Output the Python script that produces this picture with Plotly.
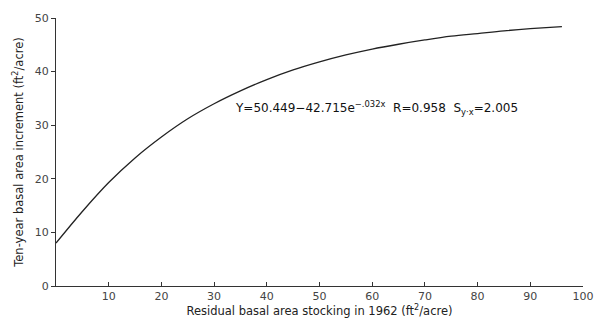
import plotly.graph_objects as go

# Values (fitted curve)
stocking = [0, 5, 10, 15, 20, 25, 30, 35, 40, 45, 50, 55, 60, 65, 70, 75, 80, 85, 90, 96]
increment = [8.0, 13.9, 19.3, 23.9, 27.8, 31.2, 34.0, 36.4, 38.5, 40.3, 41.8, 43.1, 44.2, 45.1, 45.9, 46.6, 47.1, 47.6, 48.0, 48.4]

x_ticks = [10, 20, 30, 40, 50, 60, 70, 80, 90, 100]
y_ticks = [0, 10, 20, 30, 40, 50]

equation = "Y=50.449\u221242.715e<sup>\u2212.032x</sup>  R=0.958  S<sub>y\u00b7x</sub>=2.005"

font_family = "DejaVu Sans, sans-serif"

fig = go.Figure()
fig.add_trace(go.Scatter(
    x=stocking, y=increment, mode="lines",
    line=dict(color="#222222", width=1.3, shape="spline"),
    showlegend=False, hoverinfo="skip",
))

fig.add_annotation(
    x=33.6, y=33.2, xref="x", yref="y", text=equation, showarrow=False,
    xanchor="left", yanchor="middle",
    font=dict(family=font_family, size=12, color="#111111"),
)

fig.update_layout(
    width=606, height=325,
    margin=dict(l=56, r=12, t=16, b=38),
    paper_bgcolor="white", plot_bgcolor="white",
    font=dict(family=font_family, color="#222222"),
    xaxis=dict(
        range=[0, 100], tickvals=x_ticks, ticktext=[str(v) for v in x_ticks],
        showline=True, linecolor="#333333", linewidth=1,
        ticks="inside", ticklen=4, tickcolor="#333333",
        showgrid=False, zeroline=False,
        tickfont=dict(size=11, color="#444444"),
        title=dict(text="Residual basal area stocking in 1962 (ft<sup>2</sup>/acre)",
                   font=dict(size=11.5, color="#222222"), standoff=2),
    ),
    yaxis=dict(
        range=[0, 50], tickvals=y_ticks, ticktext=[str(v) for v in y_ticks],
        showline=True, linecolor="#333333", linewidth=1,
        ticks="outside", ticklen=4, tickcolor="#333333",
        showgrid=False, zeroline=False,
        tickfont=dict(size=11, color="#444444"),
        title=dict(text="Ten-year basal area increment (ft<sup>2</sup>/acre)",
                   font=dict(size=11.5, color="#222222"), standoff=8),
    ),
)

fig.write_html("out.html")
